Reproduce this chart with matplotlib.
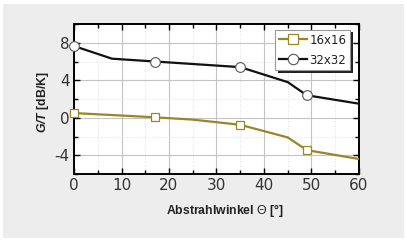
import matplotlib
matplotlib.use("Agg")
import matplotlib.pyplot as plt
from matplotlib.patches import Rectangle
from matplotlib.ticker import MultipleLocator

plt.rcParams["axes.unicode_minus"] = False
plt.rcParams["mathtext.fontset"] = "custom"
plt.rcParams["mathtext.rm"] = "Liberation Sans"
plt.rcParams["mathtext.it"] = "Liberation Sans:italic"
plt.rcParams["mathtext.bf"] = "Liberation Sans:bold"
plt.rcParams["mathtext.bfit"] = "Liberation Sans:italic:bold"

# Data
angle_32 = [0, 8, 17, 35, 45, 49, 60]
gt_32 = [7.65, 6.3, 6.0, 5.4, 3.8, 2.4, 1.5]
marker_angles_32 = [0, 17, 35, 49]
marker_gt_32 = [7.65, 6.0, 5.4, 2.4]

angle_16 = [0, 17, 25, 35, 45, 49, 60]
gt_16 = [0.5, 0.05, -0.2, -0.75, -2.1, -3.45, -4.4]
marker_angles_16 = [0, 17, 35, 49]
marker_gt_16 = [0.5, 0.05, -0.75, -3.45]

x_ticks = [0, 10, 20, 30, 40, 50, 60]
y_ticks = [-4, 0, 4, 8]

olive = "#9a8527"
dark = "#111111"

W, H = 407, 242
fig = plt.figure(figsize=(W / 100, H / 100), dpi=100)
fig.patch.set_facecolor("white")
fig.patches.append(Rectangle((3 / W, 4 / H), 401 / W, 234 / H, transform=fig.transFigure,
                             facecolor="#ededed", edgecolor="none", zorder=-10))

ax = fig.add_axes([74 / W, 1 - 174 / H, 285 / W, 150 / H])
ax.set_facecolor("white")
ax.set_xlim(0, 60)
ax.set_ylim(-6, 10)

ax.set_xticks(x_ticks)
ax.set_yticks(y_ticks)
ax.xaxis.set_minor_locator(MultipleLocator(5))
ax.yaxis.set_minor_locator(MultipleLocator(2))
ax.grid(which="major", color="#c4c4c4", linewidth=0.8)
ax.grid(which="minor", color="#d8d8d8", linewidth=0.6, linestyle=(0, (1, 2)))
ax.set_axisbelow(True)

ax.tick_params(which="both", direction="in", top=True, right=True, width=1.0, color="black")
ax.tick_params(which="major", length=4, labelsize=11, pad=3, labelcolor="#333333")
ax.tick_params(which="minor", length=3)
for s in ax.spines.values():
    s.set_linewidth(1.4)
    s.set_color("black")

ax.plot(angle_16, gt_16, color=olive, linewidth=1.6, zorder=3)
ax.plot(marker_angles_16, marker_gt_16, linestyle="none", marker="s", markersize=5.8,
        markerfacecolor="white", markeredgecolor=olive, markeredgewidth=0.9, zorder=4,
        clip_on=False)
ax.plot(angle_32, gt_32, color=dark, linewidth=1.6, zorder=3)
ax.plot(marker_angles_32, marker_gt_32, linestyle="none", marker="o", markersize=7,
        markerfacecolor="white", markeredgecolor="#555555", markeredgewidth=0.8, zorder=4,
        clip_on=False)

h16, = ax.plot([], [], color=olive, linewidth=1.6, marker="s", markersize=7,
               markerfacecolor="white", markeredgecolor=olive, markeredgewidth=0.9)
h32, = ax.plot([], [], color=dark, linewidth=1.6, marker="o", markersize=7.5,
               markerfacecolor="white", markeredgecolor="#555555", markeredgewidth=0.8)
leg = ax.legend([h16, h32], ["16x16", "32x32"], loc="upper right",
                bbox_to_anchor=((350 - 74) / 285, (174 - 30) / 150), fontsize=8.5,
                frameon=True, fancybox=False, shadow=False, framealpha=1,
                facecolor="white", handlelength=2.4,
                handletextpad=0.2, borderpad=0.3, labelspacing=0.6, borderaxespad=0.0)
leg.get_frame().set_edgecolor("#999999")
leg.get_frame().set_linewidth(0.8)
leg.set_zorder(6)
for t in leg.get_texts():
    t.set_color("#222222")

ax.set_xlabel(r"Abstrahlwinkel $\Theta$ [°]", fontsize=8.8, fontweight="bold",
              color="#222222", family="Liberation Sans")
ax.xaxis.set_label_coords((225 - 74) / 285, -(214 - 174) / 150)
ax.xaxis.label.set_va("baseline")
ax.set_ylabel(r"$\mathbfit{G/T}$ [dB/K]", fontsize=8.8, fontweight="bold",
              color="#222222", family="Liberation Sans")
ax.yaxis.set_label_coords(-(74 - 51) / 285, (174 - 102) / 150)

# manual legend shadow (small offset)
fig.canvas.draw()
bb = leg.get_window_extent()
ax.add_patch(Rectangle(((bb.x0 + 2.5) / W, (bb.y0 - 2.5) / H), bb.width / W, bb.height / H,
                       transform=fig.transFigure, facecolor="#222222", edgecolor="none",
                       zorder=5.5, clip_on=False))

fig.savefig("out.png", dpi=100)
